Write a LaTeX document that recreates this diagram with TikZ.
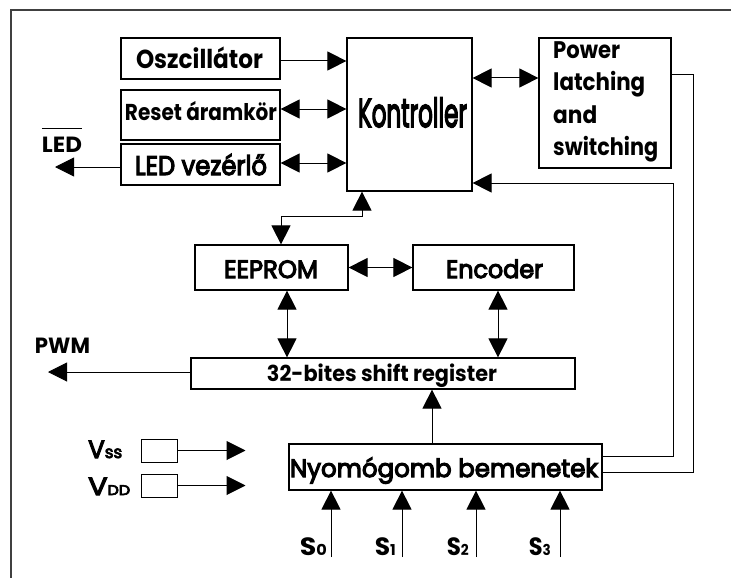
\documentclass[tikz,border=0pt]{standalone}
\usepackage{fontspec}
\usepackage{graphicx}
\usetikzlibrary{arrows.meta}
\newfontfamily\popreg[FakeBold=4.5]{Poppins}
\newfontfamily\popbase{Poppins}
\newcommand\popmed{\popbase\bfseries}
\newcommand\fw[4]{\resizebox{#1pt}{\height}{#3\fontsize{#2}{#2}\selectfont #4}}
\tikzset{
  blk/.style={draw, line width=1.2pt, inner sep=0pt, rectangle},
  lbl/.style={inner sep=0pt, anchor=base},
  lblw/.style={inner sep=0pt, anchor=base west},
  lble/.style={inner sep=0pt, anchor=base east},
  con/.style={line width=1pt},
  arr/.style={con, -{Triangle[length=19pt,width=19pt]}},
  barr/.style={con, {Triangle[length=19pt,width=19pt]}-{Triangle[length=19pt,width=19pt]}},
  rarr/.style={con, {Triangle[length=19pt,width=19pt]}-},
}
\begin{document}
\begin{tikzpicture}[x=1pt,y=-1pt]
\useasboundingbox (0,0) rectangle (731,578);
\fill[white] (0,0) rectangle (731,578);
% frame
\draw[line width=2pt, black!75] (11,578) -- (11,10) -- (731,10);

% blocks
\node[blk, minimum width=159pt, minimum height=41pt] (osc) at (200.5,58.5) {};
\node[blk, minimum width=159pt, minimum height=50pt] (rst) at (200.5,115) {};
\node[blk, minimum width=159pt, minimum height=41pt] (led) at (200.5,164.5) {};
\node[blk, minimum width=125pt, minimum height=153pt] (kon) at (409.5,114.5) {};
\node[blk, minimum width=132pt, minimum height=130pt] (pw) at (605,103) {};
\node[blk, minimum width=153pt, minimum height=45pt] (ee) at (271.5,267.5) {};
\node[blk, minimum width=161pt, minimum height=45pt] (enc) at (493.5,267.5) {};
\node[blk, minimum width=384pt, minimum height=31pt] (sh) at (383,373.5) {};
\node[blk, minimum width=313pt, minimum height=46pt] (ny) at (445.5,467) {};
\node[blk, line width=1pt, minimum width=36pt, minimum height=23pt] (vss) at (159,450.5) {};
\node[blk, line width=1pt, minimum width=36pt, minimum height=23pt] (vdd) at (159,485.5) {};

% texts
\node[lbl] (tosc) at (199.5,69) {\fw{127}{26}{\popmed}{Oszcillátor}};
\node[lbl] (trst) at (201,121) {\fw{152}{23}{\popmed}{Reset áramkör}};
\node[lbl] (tled) at (201,175) {\fw{132}{27}{\popreg}{LED vezérlő}};
\node[lbl] (tkon) at (412.5,127) {\fw{109}{40}{\popreg}{Kontroller}};
\node[lblw] (tpw1) at (553,59) {\fw{67}{24}{\popmed}{Power}};
\node[lblw] (tpw2) at (553,91) {\fw{92}{24}{\popmed}{latching}};
\node[lblw] (tpw3) at (553,123) {\fw{44}{24}{\popmed}{and}};
\node[lblw] (tpw4) at (553,155) {\fw{105}{24}{\popmed}{switching}};
\node[lbl] (tee) at (271,278) {\fw{94}{25}{\popreg}{EEPROM}};
\node[lbl] (tenc) at (494.5,278) {\fw{97}{25}{\popreg}{Encoder}};
\node[lbl] (tsh) at (382,381) {\fw{230}{22}{\popmed}{32-bites shift register}};
\node[lbl] (tpwm) at (62.5,353) {\fw{55}{22}{\popmed}{PWM}};
\node[lbl] (tny) at (444,477) {\fw{308}{25}{\popreg}{Nyomógomb bemenetek}};
\node[lbl] (tledn) at (62,152) {\fw{40}{22}{\popmed}{LED}};
\draw[line width=1.5pt] ([yshift=8pt]tledn.north west) -- ([yshift=8pt]tledn.north east);
\node[lblw] (tvss) at (88,458) {\fw{34}{25}{\popreg}{V\fontsize{17}{17}\selectfont ss}};
\node[lblw] (tvdd) at (88,495) {\fw{42}{25}{\popreg}{V\fontsize{14}{14}\selectfont DD}};
\node[lble] (ts0) at (327,555) {\fw{27}{25}{\popmed}{S\fontsize{15}{15}\selectfont 0}};
\node[lble] (ts1) at (396,555) {\fw{21}{25}{\popmed}{S\fontsize{15}{15}\selectfont 1}};
\node[lble] (ts2) at (469,555) {\fw{22}{25}{\popmed}{S\fontsize{15}{15}\selectfont 2}};
\node[lble] (ts3) at (551,555) {\fw{22}{25}{\popmed}{S\fontsize{15}{15}\selectfont 3}};

% connectors
\draw[arr] ([yshift=-2.5pt]osc.east) -- ([yshift=-2.5pt]osc.east -| kon.west);
\draw[barr] ([yshift=6pt]rst.east) -- ([yshift=6pt]rst.east -| kon.west);
\draw[barr] ([yshift=1.5pt]led.east) -- ([yshift=1.5pt]led.east -| kon.west);
\coordinate (ledtip) at (55,167);
\draw[arr] (led.west |- ledtip) -- (ledtip);

\coordinate (pk) at ([yshift=25pt]pw.west);
\draw[barr] (pk -| kon.east) -- (pk);

\coordinate (r1) at ([yshift=28pt]pw.east);
\coordinate (n1) at ([yshift=-5pt]ny.east);
\draw[con] (r1) -- ++(22,0) |- (n1);

\coordinate (k2) at ([yshift=-68.5pt]kon.east);
\coordinate (n2) at ([yshift=11pt]ny.east);
\draw[rarr] (k2) -- ++(201,0) |- (n2);

\coordinate (e1) at ([xshift=9.5pt]ee.north);
\coordinate (k3) at ([xshift=-47.5pt]kon.south);
\draw[barr] (e1) -- ++(0,-28) -| (k3);

\draw[barr] (ee) -- (enc);

\coordinate (e2) at ([xshift=15.5pt]ee.south);
\draw[barr] (e2) -- (e2 |- sh.north);
\coordinate (e3) at ([xshift=4.5pt]enc.south);
\draw[barr] (e3) -- (e3 |- sh.north);

\coordinate (pwmtip) at (48,372);
\draw[arr] (sh.west |- pwmtip) -- (pwmtip);

\coordinate (n3) at ([xshift=-13.5pt]ny.north);
\draw[arr] (n3) -- (n3 |- sh.south);

\draw[arr] (vss.east) -- ++(68,0) coordinate (vssend);
\draw[arr] (vdd.east) -- ++(68,0) coordinate (vddend);

\coordinate (s0) at (331,557);
\coordinate (s1) at (402,557);
\coordinate (s2) at (476,557);
\coordinate (s3) at (560,557);
\draw[arr] (s0) -- (s0 |- ny.south);
\draw[arr] (s1) -- (s1 |- ny.south);
\draw[arr] (s2) -- (s2 |- ny.south);
\draw[arr] (s3) -- (s3 |- ny.south);
\end{tikzpicture}
\end{document}
